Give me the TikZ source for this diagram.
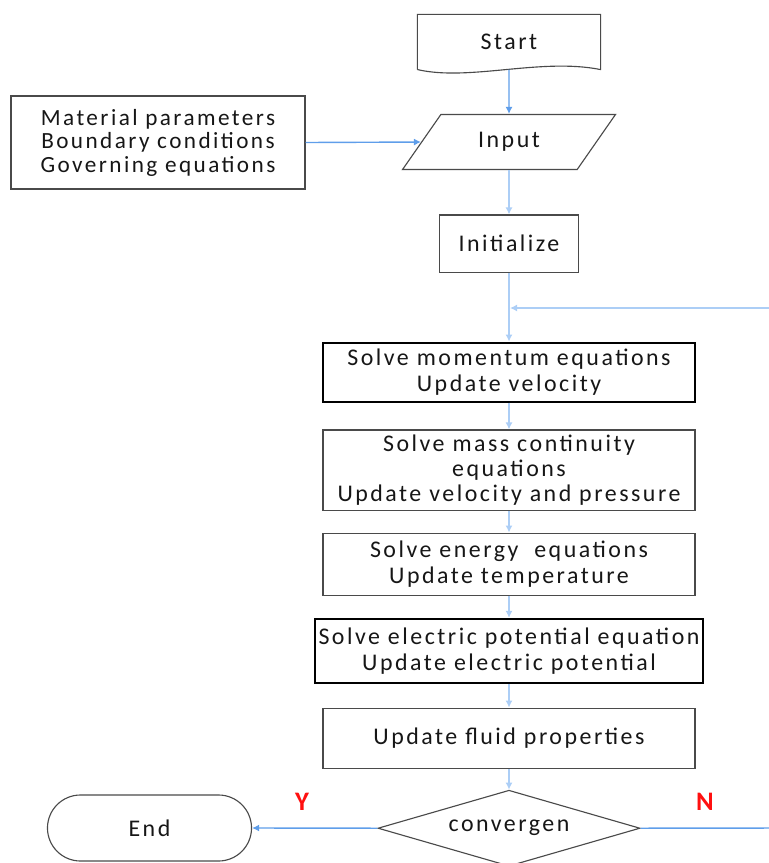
\documentclass[tikz,border=0pt]{standalone}
\usepackage{fontspec}
\setmainfont{Carlito}[LetterSpace=10.5]
\usetikzlibrary{shapes,arrows.meta,positioning,calc}
\definecolor{lightline}{HTML}{ACCEF6}
\definecolor{darkline}{HTML}{5F9EEA}
\definecolor{boxgray}{HTML}{4A4A4A}
\definecolor{textgray}{HTML}{161616}
\definecolor{flagred}{HTML}{FF1010}

\begin{document}
\begin{tikzpicture}[x=0.025cm,y=-0.025cm,>={Latex[length=5pt,width=5pt]},
  stepbox/.style={rectangle,draw=boxgray,thick,text=textgray,align=center,minimum width=9.3cm,font=\fontsize{17}{17.9}\selectfont},
  flowline/.style={->,line width=1.4pt,lightline},
  darkflow/.style={->,line width=1pt,darkline},
  flag/.style={text=flagred,font=\bfseries\fontsize{19}{22}\selectfont}]
  \useasboundingbox (0,0) rectangle (769,863);
  \clip (0,0) rectangle (769,863);
  % Nodes
  \node[stepbox,draw=none,minimum width=4.55cm,minimum height=1.35cm] (start) at (509,42) {Start};
  \draw[boxgray,thick] (start.south west) -- (start.north west) -- (start.north east) -- (start.south east) .. controls +(-60,-12) and +(52,12) .. (start.south west);
  \node[stepbox,trapezium,trapezium left angle=55,trapezium right angle=125,trapezium stretches=true,minimum width=5.35cm,minimum height=1.375cm,below of=start,node distance=2.5cm] (input) {Input};
  \node[stepbox,minimum width=3.475cm,minimum height=1.425cm,below of=input,node distance=2.5375cm] (init) {Initialize};
  \node[stepbox,draw=black,line width=1.4pt,minimum height=1.475cm,below of=init,node distance=3.2125cm] (momentum) {Solve momentum equations\\Update velocity};
  \node[stepbox,minimum height=1.7cm,below of=momentum,node distance=2.45cm] (mass) {Solve mass continuity\\equations\\Update velocity and pressure};
  \node[stepbox,minimum height=1.55cm,below of=mass,node distance=2.35cm] (energy) {Solve energy\ \ equations\\Update temperature};
  \node[stepbox,draw=black,line width=1.8pt,inner xsep=1pt,minimum width=9.7cm,minimum height=1.6cm,below of=energy,node distance=2.175cm] (electric) {Solve electric potential equation\\Update electric potential};
  \node[stepbox,minimum height=1.5cm,below of=electric,node distance=2.175cm] (fluid) {Update fluid properties};
  \node[stepbox,diamond,aspect=3.45,inner sep=0pt,minimum width=6.55cm,minimum height=1.9cm,below of=fluid,node distance=2.25cm] (cond) {convergen};
  \node[stepbox,minimum width=7.35cm,minimum height=2.325cm,font=\fontsize{16.5}{16.7}\selectfont] (params) at (158,142.5) {Material parameters\\Boundary conditions\\Governing equations};
  \node[stepbox,rounded corners=0.825cm,minimum width=5.1cm,minimum height=1.65cm] (finish) at (149.5,828) {End};
  \node[flag] (yes) at (302,802) {Y};
  \node[flag] (no) at (705,802) {N};
  \coordinate (merge) at (510,308);
  \coordinate (back) at (790,828);

  % Arrows
  \draw[darkflow] (start.south) -- (input.north);
  \draw[darkflow] (params.east) -- (input.west);
  \draw[flowline] (input.south) -- (init.north);
  \draw[flowline] (init.south) -- (momentum.north);
  \draw[flowline] (momentum.south) -- (mass.north);
  \draw[flowline] (mass.south) -- (energy.north);
  \draw[flowline] (energy.south) -- (electric.north);
  \draw[flowline] (electric.south) -- (fluid.north);
  \draw[flowline] (fluid.south) -- (cond.north);
  \draw[darkflow] (cond.west) -- (finish.east);
  \draw[darkline,line width=1pt] (cond.east) -- (back);
  \draw[flowline] (back) |- (merge);
\end{tikzpicture}
\end{document}
